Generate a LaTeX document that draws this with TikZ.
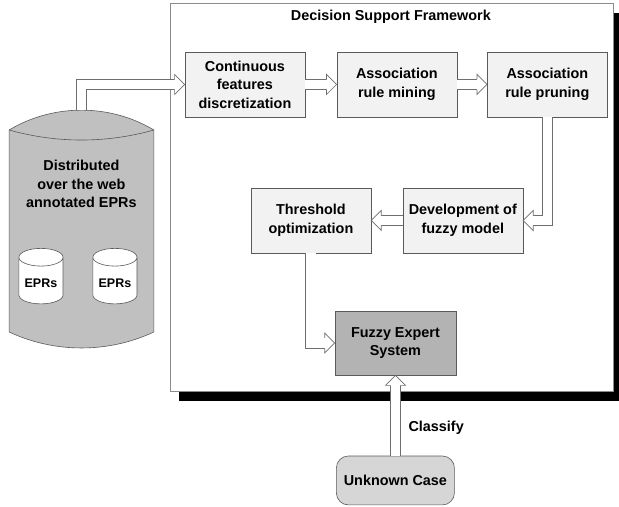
\documentclass[tikz,border=0pt]{standalone}
\usepackage{fontspec}
\setsansfont{Liberation Sans}
\usetikzlibrary{shapes.geometric,shadows,decorations.markings}

\definecolor{edgegray}{HTML}{5A5A5A}
\definecolor{linegray}{HTML}{6E6E6E}
\definecolor{framegray}{HTML}{8C8C8C}
\definecolor{boxfill}{HTML}{F2F2F2}
\definecolor{fesgray}{HTML}{B3B3B3}
\definecolor{storegray}{HTML}{C0C0C0}
\definecolor{casegray}{HTML}{D6D6D6}

\begin{document}
\begin{tikzpicture}[
  every node/.style={font=\sffamily\bfseries\fontsize{14.4}{18.5}\selectfont},
  framebox/.style={
    draw=framegray,
    fill=white,
    line width=0.6pt,
    minimum width=15.57cm,
    minimum height=13.64cm,
    drop shadow={shadow xshift=9pt, shadow yshift=-10pt, fill=black, opacity=1}
  },
  stage/.style={
    draw=edgegray,
    fill=#1,
    line width=0.6pt,
    minimum width=4.22cm,
    minimum height=2.28cm,
    align=center
  },
  stage/.default=boxfill,
  store/.style={
    cylinder,
    shape border rotate=90,
    aspect=0.45,
    draw=edgegray,
    fill=white,
    line width=0.6pt,
    minimum width=1.55cm,
    minimum height=1.95cm,
    font=\sffamily\bfseries\fontsize{12.5}{15}\selectfont
  },
  casebox/.style={
    draw=edgegray,
    fill=casegray,
    line width=0.6pt,
    rounded corners=12pt,
    minimum width=4.15cm,
    minimum height=1.72cm
  },
  flow/.style={
    draw=white, line width=9.6pt, shorten >=9.7pt,
    preaction={draw=linegray, line width=11pt, shorten >=9.7pt},
    postaction={decorate},
    decoration={markings, mark=at position 1 with {
      \filldraw[fill=white, draw=linegray, line width=0.7pt, shorten >=0pt]
        (-10pt,5.15pt) -- (-10pt,10pt) -- (0pt,0pt) -- (-10pt,-10pt) -- (-10pt,-5.15pt);}}
  },
]

\useasboundingbox (0,0) rectangle (21.76,-17.82);

% Framework box with its shadow.
\node[framebox] (dsf) at (13.76,-6.94) {};
\node (title) at (13.74,-0.60) {Decision Support Framework};

% Record store on the left.
\draw[draw=edgegray, fill=storegray, line width=0.6pt]
  (0.32,-4.57) .. controls (1.87,-3.64) and (3.86,-3.64) .. (5.41,-4.57)
  -- (5.41,-11.67) .. controls (3.81,-12.42) and (1.92,-12.42) .. (0.32,-11.67) -- cycle;
\draw[draw=edgegray, line width=0.6pt]
  (0.32,-4.57) .. controls (2.0,-5.04) and (3.73,-5.04) .. (5.41,-4.57);
\coordinate (webtop) at (2.86,-3.87);
\node[align=center] (web) at (2.86,-6.47) {Distributed\\over the web\\annotated EPRs};
\node[store] (eprA) at (1.44,-9.95) {EPRs};
\node[store] (eprB) at (4.04,-9.95) {EPRs};

% Row 1: rule extraction.
\node[stage] (cont) at (8.61,-2.97) {Continuous\\features\\discretization};
\node[stage] (mine) at (13.95,-2.97) {Association\\rule mining};
\node[stage] (prune) at (19.24,-2.97) {Association\\rule pruning};

% Row 2: fuzzy model.
\node[stage] (devel) at (16.27,-7.75) {Development of\\fuzzy model};
\node[stage] (thresh) at (10.93,-7.75) {Threshold\\optimization};

% Row 3: expert system and query.
\node[stage=fesgray, minimum width=4.25cm, minimum height=2.25cm] (fes) at (13.90,-12.06) {Fuzzy Expert\\System};
\node[casebox] (unknown) at (13.90,-16.89) {Unknown Case};

\draw[flow] (webtop) |- (cont.west);
\draw[flow] (cont) -- (mine);
\draw[flow] (mine) -- (prune);
\draw[flow] (prune.south) |- (devel.east);
\draw[flow] (devel) -- (thresh);
\draw[flow] (thresh.south) |- (fes.west);
\draw[flow] (unknown) -- node[right=5pt, pos=0.35] (classify) {Classify} (fes);

\end{tikzpicture}
\end{document}
